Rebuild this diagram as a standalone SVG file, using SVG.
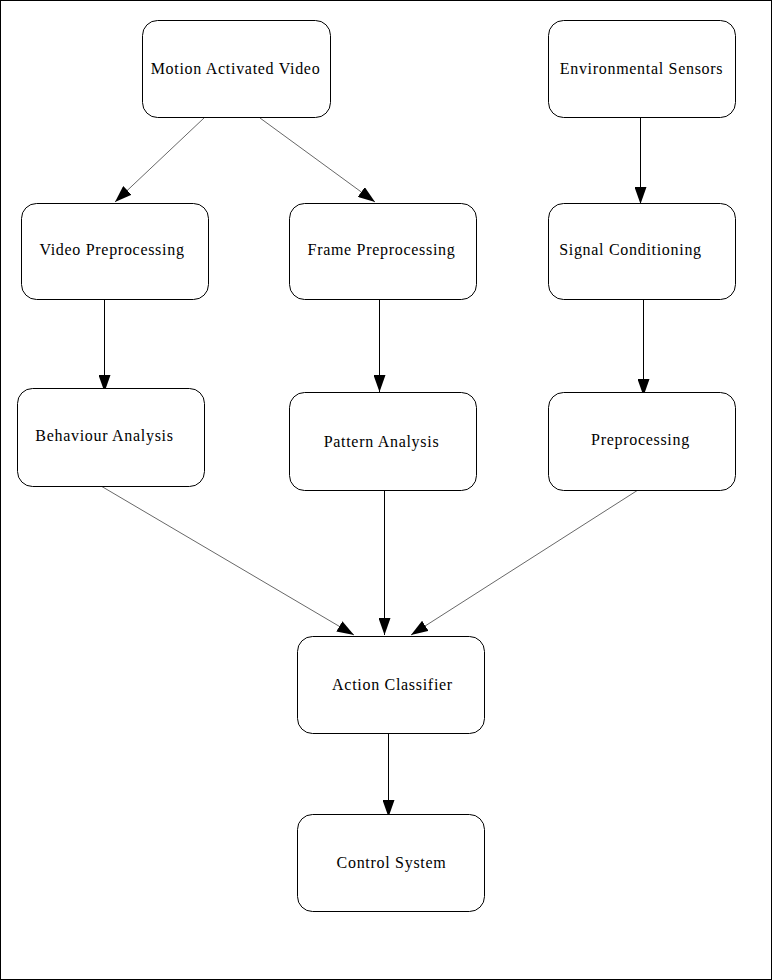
<svg xmlns="http://www.w3.org/2000/svg" width="772" height="980" viewBox="0 0 772 980">
<style>
.box{fill:#fff;stroke:#000;stroke-width:1}
.lbl{font-family:"Liberation Serif","Times New Roman",serif;font-size:16px;letter-spacing:0.7px;fill:#000;text-anchor:middle}
.edge{stroke:#000;stroke-width:1;fill:none}
.thin{stroke:#000;stroke-width:0.6;fill:none}
</style>
<defs>
<marker id="ah" markerUnits="userSpaceOnUse" markerWidth="18" markerHeight="12" refX="17" refY="6" orient="auto">
<path d="M0,0 L17,6 L0,12 z" fill="#000"/>
</marker>
</defs>
<rect x="0.5" y="0.5" width="771" height="979" fill="#fff" stroke="#000" stroke-width="1"/>
<g id="connectors">
<line class="thin" x1="204" y1="118" x2="115" y2="202" marker-end="url(#ah)"/>
<line class="thin" x1="260" y1="118" x2="375" y2="202" marker-end="url(#ah)"/>
<line class="edge" x1="640.5" y1="117" x2="640.5" y2="204" marker-end="url(#ah)"/>
<line class="edge" x1="104.5" y1="299" x2="104.5" y2="392" marker-end="url(#ah)"/>
<line class="edge" x1="379.5" y1="299" x2="379.5" y2="392" marker-end="url(#ah)"/>
<line class="edge" x1="643.5" y1="299" x2="643.5" y2="396" marker-end="url(#ah)"/>
<line class="thin" x1="101" y1="486" x2="354" y2="635" marker-end="url(#ah)"/>
<line class="edge" x1="384.5" y1="490" x2="384.5" y2="635" marker-end="url(#ah)"/>
<line class="thin" x1="638" y1="490" x2="411" y2="635" marker-end="url(#ah)"/>
<line class="edge" x1="388.5" y1="733" x2="388.5" y2="817" marker-end="url(#ah)"/>
</g>
<g id="motion-activated-video">
<rect class="box" x="142.5" y="20.5" width="188" height="97" rx="15"/>
<text class="lbl" x="235.5" y="74">Motion Activated Video</text>
</g>
<g id="environmental-sensors">
<rect class="box" x="548.5" y="20.5" width="187" height="97" rx="15"/>
<text class="lbl" x="641.5" y="74">Environmental Sensors</text>
</g>
<g id="video-preprocessing">
<rect class="box" x="21.5" y="203.5" width="187" height="96" rx="15"/>
<text class="lbl" x="112" y="255">Video Preprocessing</text>
</g>
<g id="frame-preprocessing">
<rect class="box" x="289.5" y="203.5" width="187" height="96" rx="15"/>
<text class="lbl" x="381.5" y="255">Frame Preprocessing</text>
</g>
<g id="signal-conditioning">
<rect class="box" x="548.5" y="203.5" width="187" height="96" rx="15"/>
<text class="lbl" x="630.5" y="255">Signal Conditioning</text>
</g>
<g id="behaviour-analysis">
<rect class="box" x="17.5" y="388.5" width="187" height="98" rx="15"/>
<text class="lbl" x="104.5" y="441">Behaviour Analysis</text>
</g>
<g id="pattern-analysis">
<rect class="box" x="289.5" y="392.5" width="187" height="98" rx="15"/>
<text class="lbl" x="381.5" y="447">Pattern Analysis</text>
</g>
<g id="preprocessing">
<rect class="box" x="548.5" y="392.5" width="187" height="98" rx="15"/>
<text class="lbl" x="640.5" y="445">Preprocessing</text>
</g>
<g id="action-classifier">
<rect class="box" x="297.5" y="636.5" width="187" height="97" rx="15"/>
<text class="lbl" x="392.5" y="690">Action Classifier</text>
</g>
<g id="control-system">
<rect class="box" x="297.5" y="814.5" width="187" height="97" rx="15"/>
<text class="lbl" x="391.5" y="868">Control System</text>
</g>
</svg>
